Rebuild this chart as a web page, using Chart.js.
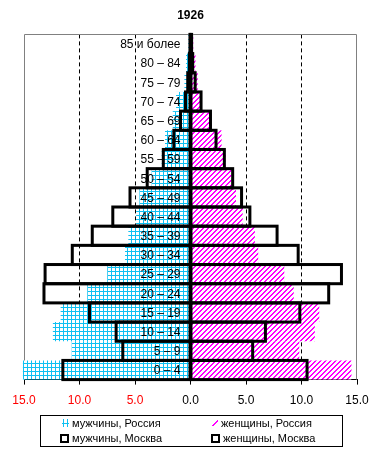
<!DOCTYPE html>
<html><head><meta charset="utf-8">
<script src="https://cdn.jsdelivr.net/npm/chart.js@4/dist/chart.umd.min.js"></script>
<style>
html,body{margin:0;padding:0;background:#fff;}
#wrap{position:relative;width:380px;height:460px;}
#legend{position:absolute;left:40px;top:415px;width:301px;height:30px;border:1px solid #000;font:11px "Liberation Sans",Arial,sans-serif;color:#000;box-sizing:content-box;}
.item{position:absolute;height:14px;line-height:14px;white-space:nowrap;}
.item canvas{vertical-align:middle;margin-right:3px;position:relative;top:-1px;}
</style></head><body>
<div id="wrap"><canvas id="c" width="380" height="460"></canvas>
<div id="legend">
  <div class="item" style="left:21px;top:0px;"><canvas id="sw0" width="7" height="8"></canvas>мужчины, Россия</div>
  <div class="item" style="left:170px;top:0px;"><canvas id="sw1" width="7" height="8"></canvas>женщины, Россия</div>
  <div class="item" style="left:19px;top:15px;"><canvas id="sw2" width="9" height="9"></canvas>мужчины, Москва</div>
  <div class="item" style="left:170px;top:15px;"><canvas id="sw3" width="9" height="9"></canvas>женщины, Москва</div>
</div></div>
<script>
// ---- data (percent of population) ----
const ageGroups = ['85 и более','80 – 84','75 – 79','70 – 74','65 – 69','60 – 64','55 – 59','50 – 54','45 – 49','40 – 44','35 – 39','30 – 34','25 – 29','20 – 24','15 – 19','10 – 14','5 – 9','0 – 4'];
const russiaMen   = [0.2, 0.4, 0.55, 1.3, 1.6, 2.3, 2.6, 3.5, 4.6, 4.9, 5.6, 5.9, 7.5, 9.3, 11.7, 12.4, 10.7, 15.1];
const russiaWomen = [0.25, 0.45, 0.65, 1.0, 1.9, 2.8, 3.15, 3.7, 4.1, 4.7, 5.8, 6.1, 8.45, 9.3, 11.6, 11.2, 9.8, 14.5];
const moscowMen   = [0.05, 0.1, 0.25, 0.45, 0.9, 1.5, 2.45, 3.9, 5.45, 7.0, 8.85, 10.65, 13.1, 13.2, 9.1, 6.7, 6.1, 11.5];
const moscowWomen = [0.1, 0.2, 0.42, 0.95, 1.8, 2.3, 3.05, 3.8, 4.6, 5.35, 7.8, 9.7, 13.6, 12.45, 9.85, 6.75, 5.6, 10.5];
const xTickValues = [-15, -10, -5, 0, 5, 10, 15];
const seriesNames = ['мужчины, Россия','женщины, Россия','мужчины, Москва','женщины, Москва'];

const FONT = '"Liberation Sans", Arial, sans-serif';
const CYAN = '#0fc0f2';
const MAGENTA = '#ff00ff';

function gridPattern(ctx){
  const t = document.createElement('canvas'); t.width = 4; t.height = 4;
  const g = t.getContext('2d');
  g.fillStyle = '#fff'; g.fillRect(0,0,4,4);
  g.fillStyle = CYAN; g.fillRect(3,0,1,4); g.fillRect(0,3,4,1);
  return ctx.createPattern(t, 'repeat');
}
function stripePattern(ctx){
  const p = 5;
  const t = document.createElement('canvas'); t.width = p; t.height = p;
  const g = t.getContext('2d');
  g.fillStyle = '#fff'; g.fillRect(0,0,p,p);
  g.fillStyle = MAGENTA;
  for (let x=0;x<p;x++) for (let y=0;y<p;y++) if ((x+y)%p < 2) g.fillRect(x,y,1,1);
  return ctx.createPattern(t, 'repeat');
}

const cv = document.getElementById('c');
const ctx = cv.getContext('2d');
const pGrid = gridPattern(ctx);
const pStripe = stripePattern(ctx);

// legend swatches
(function(){
  const s0 = document.getElementById('sw0').getContext('2d');
  s0.fillStyle = CYAN; s0.fillRect(1,0,1,8); s0.fillRect(5,0,1,8); s0.fillRect(0,4,7,1);
  const s1 = document.getElementById('sw1').getContext('2d');
  s1.fillStyle = MAGENTA;
  for (let i=0;i<6;i++){ s1.fillRect(6-i, 1+i, 2, 1); }
  ['sw2','sw3'].forEach(id=>{
    const s = document.getElementById(id).getContext('2d');
    s.fillStyle = '#000'; s.fillRect(0,0,9,9);
    s.fillStyle = '#fff'; s.fillRect(2,2,5,5);
  });
})();

const framePlugin = {
  id: 'frame',
  beforeDatasetsDraw(chart){
    const a = chart.chartArea, c = chart.ctx;
    c.save();
    c.strokeStyle = '#808080'; c.lineWidth = 1;
    c.beginPath();
    c.moveTo(Math.round(a.left)+0.5, a.bottom);
    c.lineTo(Math.round(a.left)+0.5, Math.round(a.top)+0.5);
    c.lineTo(Math.round(a.right)-0.5, Math.round(a.top)+0.5);
    c.lineTo(Math.round(a.right)-0.5, a.bottom);
    c.stroke();
    c.restore();
  }
};

const outlinePlugin = {
  id: 'outlines',
  afterDatasetsDraw(chart){
    const c = chart.ctx;
    const xs = chart.scales.x, ys = chart.scales.y;
    c.save();
    // age labels
    c.fillStyle = '#000';
    c.font = '12px ' + FONT;
    c.textAlign = 'right';
    c.textBaseline = 'middle';
    const lx = xs.getPixelForValue(0) - 10;
    ageGroups.forEach((lab, i) => c.fillText(lab, lx, ys.getPixelForValue(i) + 1));
    // Moscow outlines
    c.strokeStyle = '#000'; c.lineWidth = 3;
    chart.data.datasets.forEach((ds, di) => {
      if (!ds.outline) return;
      chart.getDatasetMeta(di).data.forEach(bar => {
        const p = bar.getProps(['x','y','base','height'], true);
        const l = Math.min(p.x, p.base), w = Math.abs(p.x - p.base);
        c.strokeRect(l, p.y - p.height/2, w, p.height);
      });
    });
    c.restore();
  }
};

new Chart(cv, {
  type: 'bar',
  data: {
    labels: ageGroups,
    datasets: [
      { label: seriesNames[2], data: moscowMen.map(v => -v), backgroundColor: 'rgba(0,0,0,0)', borderWidth: 0, outline: true },
      { label: seriesNames[3], data: moscowWomen, backgroundColor: 'rgba(0,0,0,0)', borderWidth: 0, outline: true },
      { label: seriesNames[0], data: russiaMen.map(v => -v), backgroundColor: pGrid, borderWidth: 0 },
      { label: seriesNames[1], data: russiaWomen, backgroundColor: pStripe, borderWidth: 0 }
    ]
  },
  options: {
    indexAxis: 'y',
    responsive: false,
    animation: false,
    devicePixelRatio: 1,
    layout: { padding: { left: 24, right: 23, top: 0, bottom: 43 } },
    datasets: { bar: { grouped: false, barPercentage: 1, categoryPercentage: 1, clip: false, inflateAmount: 0 } },
    plugins: {
      legend: { display: false },
      tooltip: { enabled: false },
      title: { display: true, text: '1926', color: '#000', font: { family: FONT, size: 12, weight: 'bold' }, padding: { top: 8, bottom: 12 } }
    },
    scales: {
      x: {
        min: -15, max: 15,
        afterBuildTicks: s => { s.ticks = xTickValues.map(v => ({ value: v })); },
        ticks: {
          padding: 9,
          font: { family: FONT, size: 12 },
          color: c => (c.tick && c.tick.value < 0) ? '#ff0000' : '#000',
          callback: v => Math.abs(v).toFixed(1)
        },
        grid: {
          drawOnChartArea: true,
          color: c => (c.tick && [5,10].includes(Math.abs(c.tick.value))) ? '#000' : 'rgba(0,0,0,0)',
          lineWidth: 1,
          tickColor: '#000',
          tickLength: 5
        },
        border: { display: true, color: '#000', width: 1, dash: [4, 3] }
      },
      y: { display: false, offset: true }
    }
  },
  plugins: [framePlugin, outlinePlugin]
});
</script>
</body></html>
